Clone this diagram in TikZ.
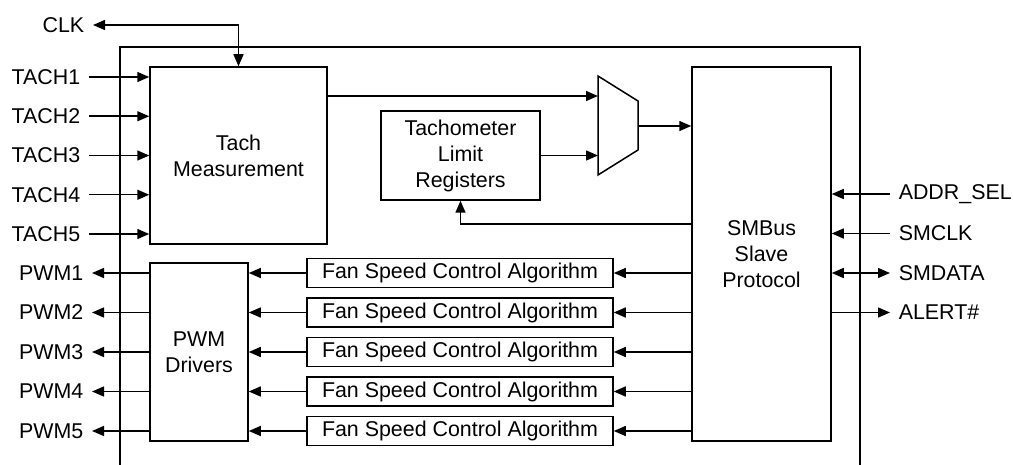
\documentclass[tikz,border=0pt]{standalone}
\usepackage{fontspec}
\setmainfont{Liberation Sans}
\usetikzlibrary{arrows.meta}

\begin{document}
\begin{tikzpicture}[x = 0.5pt, y = -0.5pt, line width = 0.75pt,
	every node/.style = {font = \fontsize{10.7}{13}\selectfont},
	block/.style = {draw, align = center, inner sep = 0pt},
	sig/.style = {inner sep = 4pt},
	>= {Triangle[length = 6pt, width = 5pt]}]
	%page size
	\useasboundingbox (0,0) rectangle (1013,465);
	
	%outline of the chip, open at the bottom
	\draw (120,465) -- (120,47) -- (860,47) -- (860,465);
	
	%main blocks
	\node [block, minimum width = 88.5pt, minimum height = 88.5pt] (tach) at (238.5,155.5) {Tach\\Measurement};
	\node [block, minimum width = 79.5pt, minimum height = 44.5pt] (limits) at (460.5,155.5) {Tachometer\\Limit\\Registers};
	\node [block, minimum width = 69.5pt, minimum height = 187pt] (smbus) at (761.5,254) {SMBus\\Slave\\Protocol};
	\node [block, minimum width = 49pt, minimum height = 89pt] (pwm) at (199,352) {PWM\\Drivers};
	
	%multiplexer
	\draw (598,76) -- (638,101) -- (638,150) -- (598,175) -- cycle;
	\coordinate (muxA) at (598,96);
	\coordinate (muxB) at (598,155.5);
	\coordinate (muxOut) at (638,126);
	
	\draw [->] (tach.east |- muxA) -- (muxA);
	\draw [->] (limits.east) -- (muxB);
	\draw [->] (muxOut) -- (smbus.west |- muxOut);
	
	%limits written back from the bus
	\coordinate (back) at (600,224);
	\draw [->] (smbus.west |- back) -| (limits.south);
	
	%clock
	\node [sig, anchor = east] (clk) at (93,25) {CLK};
	\draw [<->] (clk.east) -| (tach.north);
	
	%tach inputs
	\foreach \i in {1,...,5} {
		\node [sig, anchor = east] (tach\i) at (89, {77+39.25*(\i-1)}) {TACH\i};
		\draw [->] (tach\i.east) -- (tach\i.east -| tach.west);
	}
	
	%fan speed control and pwm outputs
	\foreach \i in {1,...,5} {
		\node [block, minimum width = 153pt, minimum height = 14.5pt] (fan\i) at (460, {273+39.5*(\i-1)}) {Fan Speed Control Algorithm};
		\node [sig, anchor = east] (pwm\i) at (92, {273+39.5*(\i-1)}) {PWM\i};
		\draw [->] (smbus.west |- fan\i.east) -- (fan\i.east);
		\draw [->] (fan\i.west) -- (pwm.east |- fan\i.west);
		\draw [->] (pwm.west |- pwm\i.east) -- (pwm\i.east);
	}
	
	%smbus pins
	\node [sig, anchor = west] (addr) at (890,194) {ADDR\_SEL};
	\node [sig, anchor = west] (smclk) at (890,233.5) {SMCLK};
	\node [sig, anchor = west] (smdata) at (890,273) {SMDATA};
	\node [sig, anchor = west] (alert) at (890,312.5) {ALERT\#};
	
	\draw [->] (addr.west) -- (addr.west -| smbus.east);
	\draw [->] (smclk.west) -- (smclk.west -| smbus.east);
	\draw [<->] (smdata.west) -- (smdata.west -| smbus.east);
	\draw [->] (alert.west -| smbus.east) -- (alert.west);
\end{tikzpicture}
\end{document}
